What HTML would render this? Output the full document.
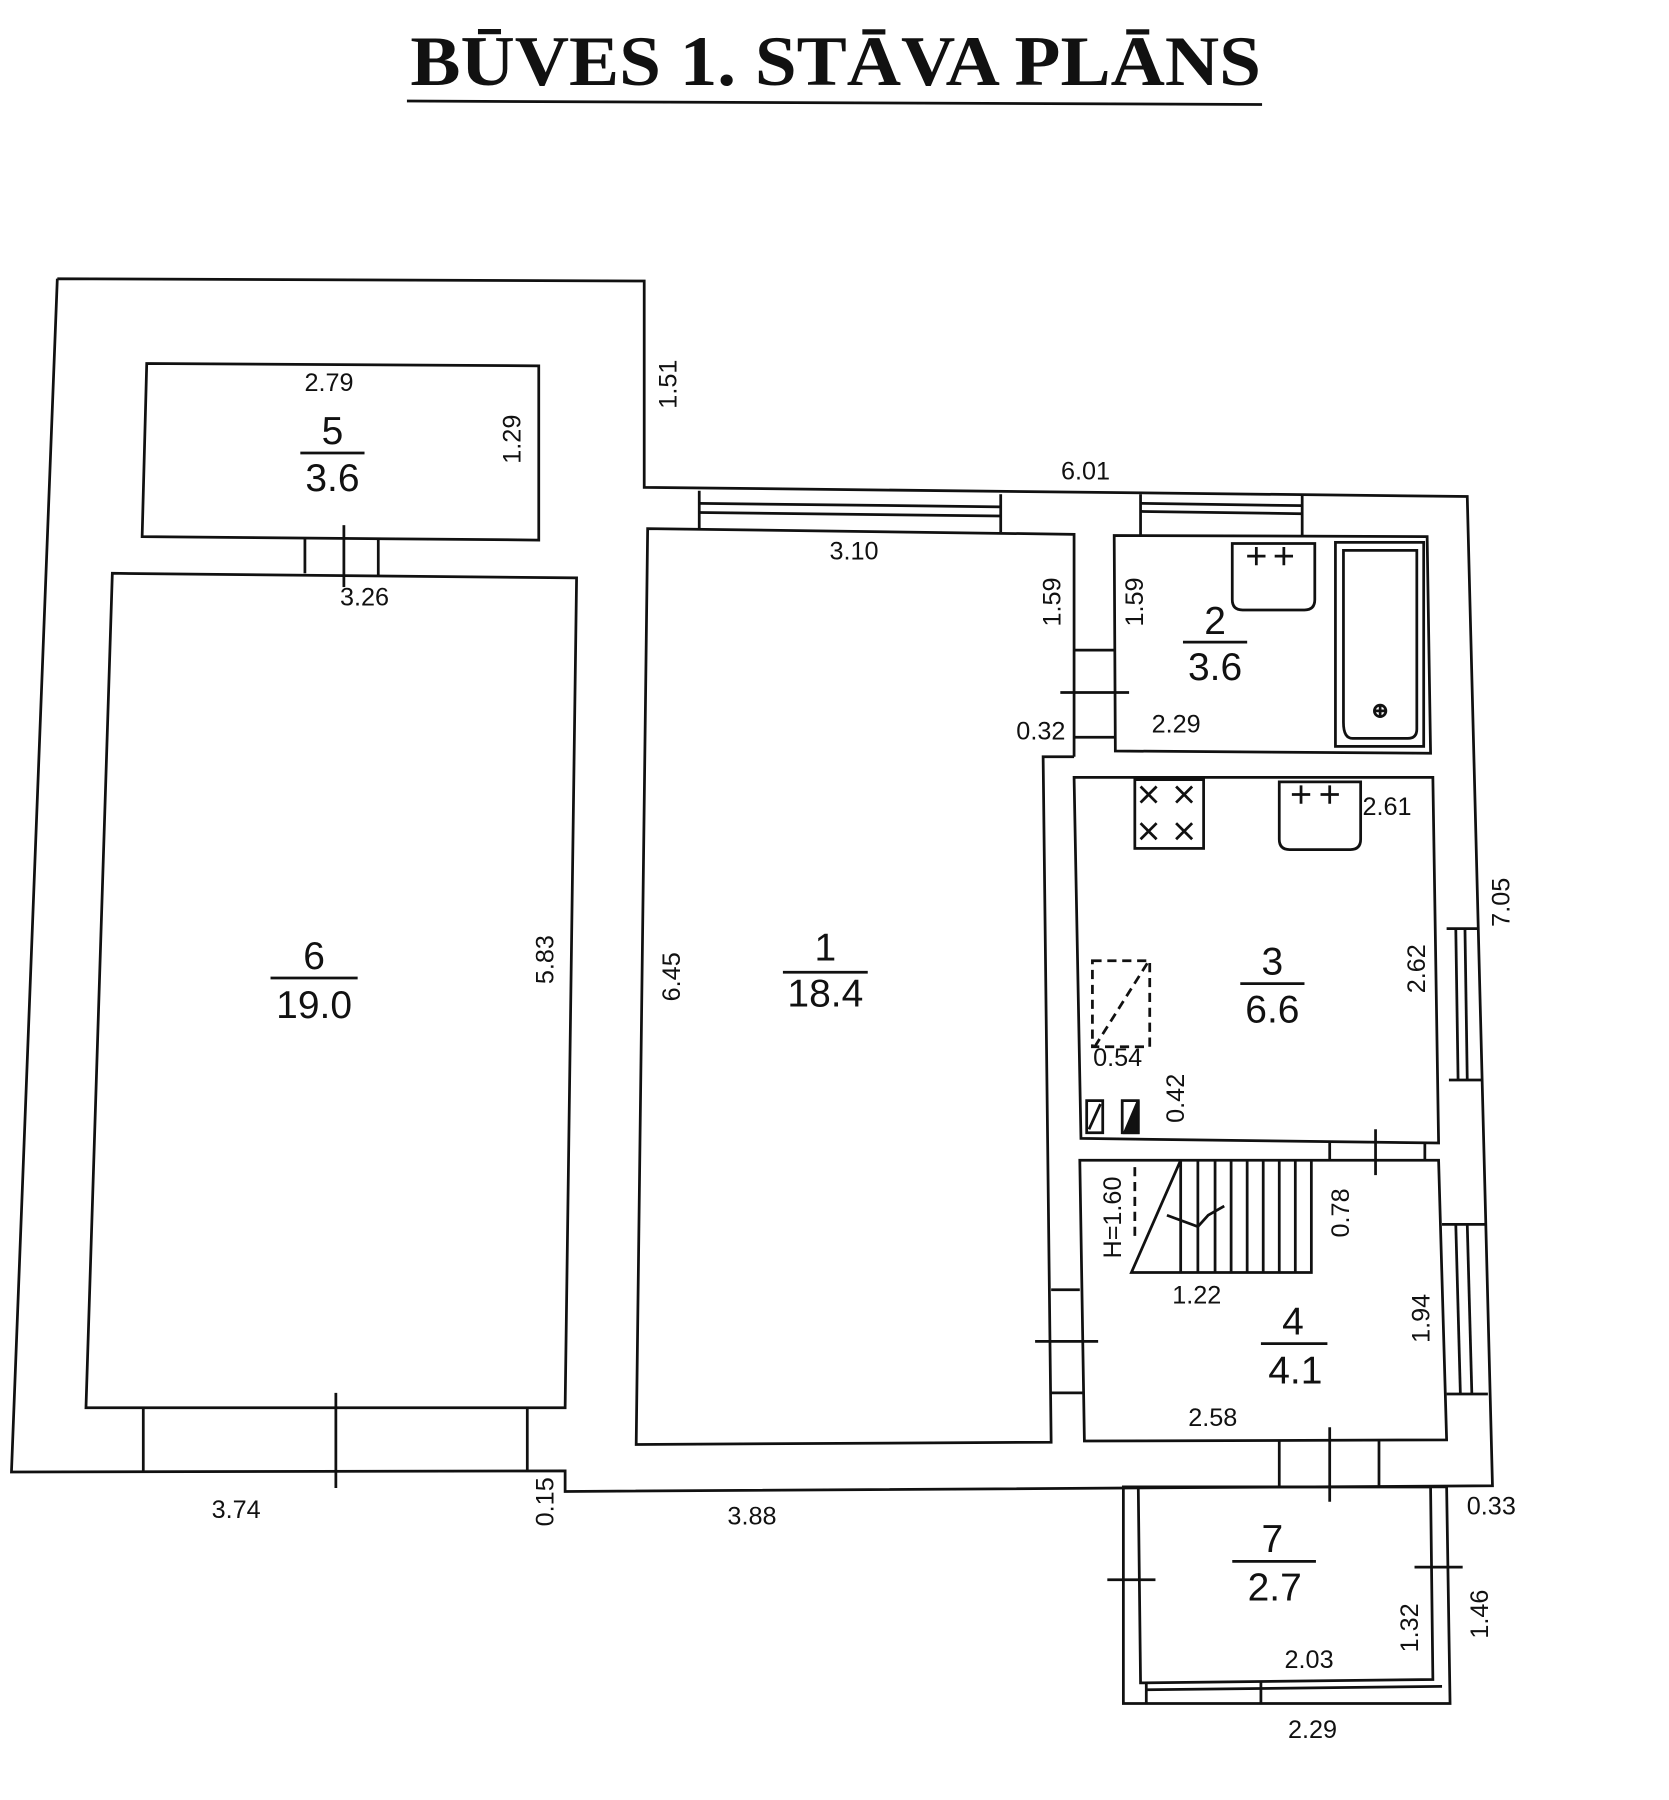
<!DOCTYPE html>
<html><head><meta charset="utf-8"><style>
html,body{margin:0;padding:0;background:#fff;}
svg{display:block}
text{font-family:"Liberation Sans",sans-serif;fill:#111}
.t{font-size:22px}
.n{font-size:34px}
</style></head><body>
<svg width="1669" height="1800" viewBox="0 0 1456 1570" xmlns="http://www.w3.org/2000/svg">
<g stroke="#111" stroke-width="2.4" fill="none">
<line x1="355" y1="88" x2="1101" y2="91"/>
<polyline points="50,243 562,245 562,425 1280,433 1302,1296 493,1301 493,1283 10,1284 50,243"/>
<polygon points="128,317 470,319 470,471 124,468"/>
<line x1="266" y1="470" x2="266" y2="500"/><line x1="330" y1="470" x2="330" y2="502"/><line x1="300" y1="458" x2="300" y2="512"/>
<polygon points="98,500 503,504 493,1228 75,1228"/>
<line x1="125" y1="1228" x2="125" y2="1283"/><line x1="460" y1="1228" x2="460" y2="1283"/><line x1="293" y1="1215" x2="293" y2="1298"/>
<polyline points="937,660 937,466 565,461 555,1260 917,1258 910,660 937,660"/>
<line x1="610" y1="428" x2="610" y2="461"/><line x1="873" y1="431" x2="873" y2="464"/>
<line x1="610" y1="439" x2="873" y2="442"/><line x1="610" y1="447" x2="873" y2="450"/>
<line x1="995" y1="431" x2="995" y2="467"/><line x1="1136" y1="432" x2="1136" y2="467"/>
<line x1="995" y1="439" x2="1136" y2="441"/><line x1="995" y1="446" x2="1136" y2="448"/>
<line x1="937" y1="567" x2="973" y2="567"/><line x1="937" y1="643" x2="973" y2="643"/><line x1="925" y1="604" x2="985" y2="604"/>
<polygon points="972,467 1245,468 1248,657 973,655"/>
<path d="M1075,474 H1147 V523 Q1147,532 1138,532 H1084 Q1075,532 1075,523 Z"/>
<path d="M1088,485 h16 M1096,477 v16 M1112,485 h16 M1120,477 v16"/>
<rect x="1165" y="473" width="77" height="178"/>
<path d="M1172,480 H1236 V636 Q1236,644 1228,644 H1180 Q1172,644 1172,630 Z"/>
<circle cx="1204" cy="620" r="5"/><path d="M1199,620 h10 M1204,615 v10"/>
<polygon points="937,678 1250,678 1255,997 943,993"/>
<rect x="990" y="680" width="60" height="60"/>
<path d="M995,686 l14,14 M1009,686 l-14,14 M1026,686 l14,14 M1040,686 l-14,14 M995,718 l14,14 M1009,718 l-14,14 M1026,718 l14,14 M1040,718 l-14,14"/>
<path d="M1116,682 H1187 V732 Q1187,741 1178,741 H1125 Q1116,741 1116,732 Z"/>
<path d="M1127,693 h16 M1135,685 v16 M1152,693 h16 M1160,685 v16"/>
<rect x="953" y="838" width="50" height="75" stroke-dasharray="8,5"/>
<line x1="955" y1="913" x2="1001" y2="840" stroke-dasharray="8,5"/>
<polygon points="948,960 962,960 962,988 948,988"/>
<polygon points="979,960 993,960 993,988 979,988"/>
<polygon points="981,988 993,960 993,988" fill="#111"/>
<line x1="950" y1="985" x2="960" y2="963"/>
<line x1="1262" y1="810" x2="1290" y2="810"/><line x1="1264" y1="942" x2="1292" y2="942"/>
<line x1="1270" y1="810" x2="1272" y2="942"/><line x1="1278" y1="810" x2="1280" y2="942"/>
<line x1="1258" y1="1068" x2="1296" y2="1068"/><line x1="1262" y1="1216" x2="1298" y2="1216"/>
<line x1="1270" y1="1068" x2="1274" y2="1216"/><line x1="1280" y1="1068" x2="1284" y2="1216"/>
<line x1="1160" y1="997" x2="1160" y2="1012"/><line x1="1243" y1="997" x2="1243" y2="1012"/><line x1="1200" y1="985" x2="1200" y2="1025"/>
<polygon points="942,1012 1255,1012 1262,1256 946,1257"/>
<path d="M1030,1012 V1110 M1045,1012 V1110 M1060,1012 V1110 M1074,1012 V1110 M1088,1012 V1110 M1102,1012 V1110 M1116,1012 V1110 M1130,1012 V1110 M1030,1110 H1144 V1012 M1030,1012 L987,1110 H1030"/>
<line x1="990" y1="1018" x2="990" y2="1080" stroke-dasharray="8,5"/>
<polyline points="1018,1060 1045,1070 1054,1060 1068,1052"/>
<line x1="917" y1="1125" x2="942" y2="1125"/><line x1="917" y1="1215" x2="946" y2="1215"/><line x1="903" y1="1170" x2="958" y2="1170"/>
<line x1="1116" y1="1257" x2="1116" y2="1297"/><line x1="1203" y1="1257" x2="1203" y2="1297"/><line x1="1160" y1="1245" x2="1160" y2="1310"/>
<polygon points="980,1297 1262,1297 1265,1486 980,1486"/>
<polygon points="993,1297 1248,1297 1250,1465 995,1468"/>
<line x1="1000" y1="1468" x2="1000" y2="1486"/><line x1="1100" y1="1467" x2="1100" y2="1486"/>
<line x1="1000" y1="1474" x2="1258" y2="1471"/>
<line x1="966" y1="1378" x2="1008" y2="1378"/><line x1="1234" y1="1367" x2="1276" y2="1367"/>
<line x1="262" y1="395" x2="318" y2="395"/>
<line x1="236" y1="853" x2="312" y2="853"/>
<line x1="683" y1="848" x2="757" y2="848"/>
<line x1="1032" y1="560" x2="1088" y2="560"/>
<line x1="1082" y1="858" x2="1138" y2="858"/>
<line x1="1100" y1="1172" x2="1158" y2="1172"/>
<line x1="1075" y1="1362" x2="1148" y2="1362"/>
</g>
<text x="358" y="74" textLength="742" lengthAdjust="spacingAndGlyphs" style="font-family:'Liberation Serif',serif;font-weight:bold;font-size:62px">BŪVES 1. STĀVA PLĀNS</text>
<g class="n" text-anchor="middle">
<text x="290" y="387">5</text><text x="290" y="428">3.6</text>
<text x="274" y="845">6</text><text x="274" y="888">19.0</text>
<text x="720" y="838">1</text><text x="720" y="878">18.4</text>
<text x="1060" y="553">2</text><text x="1060" y="593">3.6</text>
<text x="1110" y="850">3</text><text x="1110" y="892">6.6</text>
<text x="1128" y="1164">4</text><text x="1130" y="1207">4.1</text>
<text x="1110" y="1354">7</text><text x="1112" y="1396">2.7</text>
</g>
<g class="t" text-anchor="middle">
<text x="287" y="341">2.79</text>
<text x="318" y="528">3.26</text>
<text x="745" y="488">3.10</text>
<text x="947" y="418">6.01</text>
<text x="908" y="645">0.32</text>
<text x="1026" y="639">2.29</text>
<text x="1210" y="711">2.61</text>
<text x="975" y="930">0.54</text>
<text x="1044" y="1137">1.22</text>
<text x="1058" y="1244">2.58</text>
<text x="206" y="1324">3.74</text>
<text x="656" y="1330">3.88</text>
<text x="1301" y="1321">0.33</text>
<text x="1142" y="1455">2.03</text>
<text x="1145" y="1516">2.29</text>
</g>
<g class="t" text-anchor="middle">
<text transform="translate(590,335) rotate(-90)">1.51</text>
<text transform="translate(454,383) rotate(-90)">1.29</text>
<text transform="translate(483,837) rotate(-90)">5.83</text>
<text transform="translate(593,852) rotate(-90)">6.45</text>
<text transform="translate(925,525) rotate(-90)">1.59</text>
<text transform="translate(997,525) rotate(-90)">1.59</text>
<text transform="translate(1243,845) rotate(-90)">2.62</text>
<text transform="translate(1317,787) rotate(-90)">7.05</text>
<text transform="translate(1033,958) rotate(-90)">0.42</text>
<text transform="translate(978,1062) rotate(-90)">H=1.60</text>
<text transform="translate(1177,1058) rotate(-90)">0.78</text>
<text transform="translate(1247,1150) rotate(-90)">1.94</text>
<text transform="translate(483,1310) rotate(-90)">0.15</text>
<text transform="translate(1237,1420) rotate(-90)">1.32</text>
<text transform="translate(1298,1408) rotate(-90)">1.46</text>
</g>
</svg>
</body></html>
